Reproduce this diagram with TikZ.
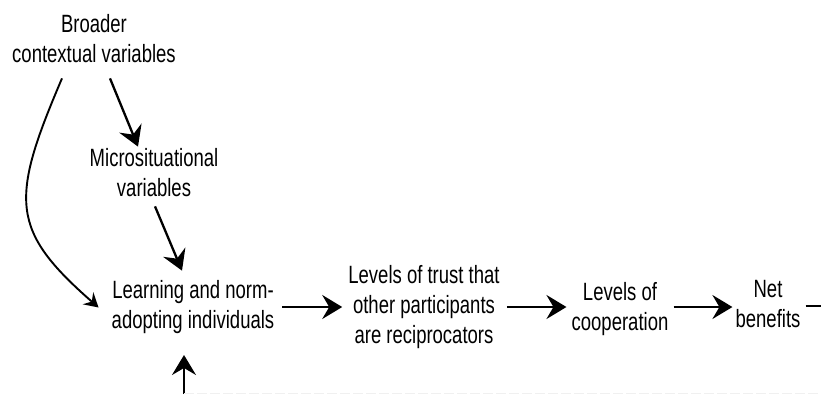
\documentclass[tikz,border=0pt]{standalone}
\usepackage{fontspec}
\setmainfont{Liberation Sans}[FakeStretch=0.74]
\usetikzlibrary{arrows.meta}
\begin{document}
\begin{tikzpicture}[x=1pt,y=-1pt,
  lbl/.style={align=center,inner sep=0pt,font=\fontsize{25}{30}\selectfont},
  arr/.style={line width=2.3pt,-{Stealth[length=20pt,width=24pt,inset=7pt]}}]
\useasboundingbox (0,0) rectangle (821,394);
\node[lbl] (B) at (94,39) {Broader\\contextual variables};
\node[lbl] (M) at (154,173) {Microsituational\\variables};
\node[lbl] (L) at (193,307.5) {Learning and norm-\\adopting individuals};
\node[lbl] (T) at (424,307.5) {Levels of trust that\\other participants\\are reciprocators};
\node[lbl] (C) at (620,309) {Levels of\\cooperation};
\node[lbl] (N) at (768,304) {Net\\benefits};
\coordinate (Bot) at (184,394);
\coordinate (Rt) at (821,306);
\coordinate (Bend) at (821,393);
% straight arrows along the main row
\draw[arr] ([xshift=8pt]L.east |- 0,307) -- ([xshift=-6pt]T.west |- 0,307);
\draw[arr] ([xshift=7pt]T.east |- 0,307) -- ([xshift=-5pt]C.west |- 0,307);
\draw[arr] ([xshift=5pt]C.east |- 0,307) -- ([xshift=-3pt]N.west |- 0,307);
\draw[line width=2.3pt] ([xshift=5pt]N.east |- Rt) -- (Rt);
% diagonal arrows
\draw[arr] ([xshift=16pt,yshift=-15pt]B.south) -- ([xshift=-16pt,yshift=2pt]M.north);
\draw[arr] ([xshift=1pt,yshift=-9pt]M.south) -- ([xshift=-11pt,yshift=10pt]L.north);
% curved arrow
\draw[arr,line width=1.9pt,-{Stealth[length=14pt,width=16pt,inset=5pt]}] ([xshift=-32pt,yshift=-15pt]B.south) .. controls (10,200) and (10,230) .. ([xshift=-13pt]L.west);
% feedback arrow from below
\draw[arr] (Bot) -- (Bot |- 0,355);
\draw[gray!12,line width=1pt,dash pattern=on 10pt off 3pt] (Bot |- Bend) -- (Bend);
\end{tikzpicture}
\end{document}
